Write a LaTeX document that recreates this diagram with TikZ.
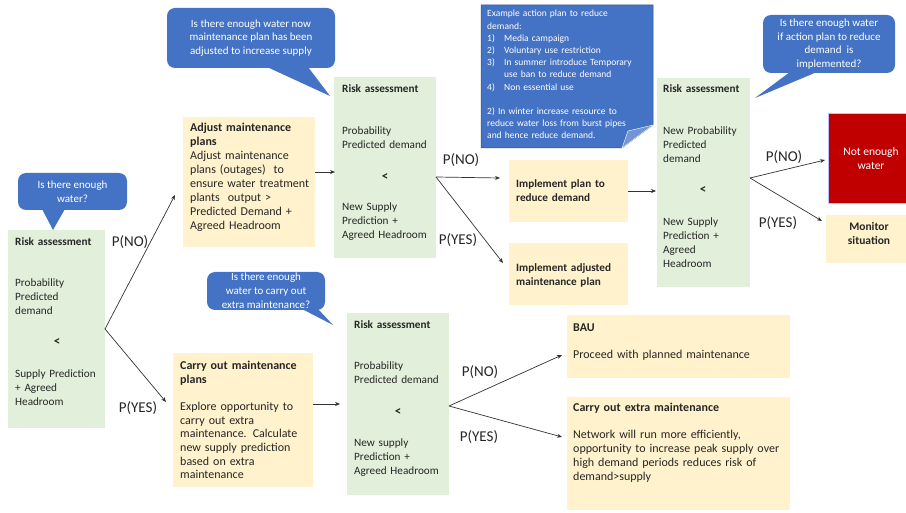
\documentclass[tikz,border=0pt]{standalone}
\usepackage{fontspec}
\setmainfont{Carlito}
\usetikzlibrary{arrows.meta,calc}
\definecolor{gfill}{HTML}{E2EFDA}
\definecolor{pfill}{HTML}{FFF2CC}
\definecolor{bfill}{HTML}{4472C4}
\definecolor{bdraw}{HTML}{2F528F}
\definecolor{rfill}{HTML}{C00000}
\definecolor{tcol}{HTML}{262626}
\definecolor{acol}{HTML}{333333}
\newcommand\numli[1]{\makebox[17pt][l]{#1}}
\begin{document}
\begin{tikzpicture}[x=1pt,y=-1pt,
  box/.style={anchor=north west, inner sep=0pt, outer sep=0pt, draw=none},
  gbox/.style={box, fill=gfill},
  pbox/.style={box, fill=pfill},
  txt/.style={anchor=base west, inner sep=0pt, align=left, text width=200pt, text=tcol, font=\fontsize{11.2}{14}\selectfont},
  bigtxt/.style={txt, font=\fontsize{12}{14}\selectfont},
  ntxt/.style={anchor=base west, inner sep=0pt, align=left, text width=170pt, text=white, font=\fontsize{9.5}{12.2}\selectfont},
  lt/.style={inner sep=0pt, text=tcol, font=\bfseries\fontsize{13}{14}\selectfont},
  lab/.style={inner sep=0pt, text=tcol, font=\fontsize{15}{17}\selectfont},
  callout/.style={box, fill=bfill, rounded corners=8pt, text=white, align=center, font=\fontsize{11}{13.8}\selectfont},
  arr/.style={draw=acol, line width=0.7pt, -{Stealth[length=5pt,width=4pt]}}
]
\useasboundingbox (0,0) rectangle (906,513);
\fill[white] (0,0) rectangle (906,513);

% ---------- left risk assessment
\node[gbox, minimum width=97pt, minimum height=198pt] (r1) at (8,230) {};
\node[txt] (r1a) at (15,245.5) {\textbf{Risk assessment}};
\node[txt] (r1b) at (15,286.5) {Probability\\Predicted\\demand};
\node[lt] (r1c) at (57,342) {<};
\node[txt] (r1d) at (15,377.5) {Supply Prediction\\+ Agreed\\Headroom};

\node[callout, minimum width=109pt, minimum height=37pt] (c1) at (18,173) {Is there enough\\water?};
\fill[bfill] (42,209) -- (65,209) -- (53,230) -- cycle;

% ---------- adjust maintenance
\node[pbox, minimum width=132pt, minimum height=130pt] (adj) at (183,117) {};
\node[bigtxt] (adjt) at (190,131.5) {\textbf{Adjust maintenance}\\\textbf{plans}\\Adjust maintenance\\plans (outages)\ \ to\\ensure water treatment\\plants\ \ output >\\Predicted Demand +\\Agreed Headroom};

\node[callout, minimum width=168pt, minimum height=60pt] (c2) at (167,8) {Is there enough water now\\maintenance plan has been\\adjusted to increase supply};
\fill[bfill] (267,67) -- (308,67) -- (330,96) -- cycle;

% ---------- risk 2
\node[gbox, minimum width=102pt, minimum height=181pt] (r2) at (334,77) {};
\node[txt] (r2a) at (342,92.5) {\textbf{Risk assessment}};
\node[txt] (r2b) at (342,134.5) {Probability\\Predicted demand};
\node[lt] (r2c) at (385,177) {<};
\node[txt] (r2d) at (342,210.5) {New Supply\\Prediction +\\Agreed Headroom};

% ---------- note
\filldraw[fill=bfill, draw=bdraw, line width=0.5pt] (481,5) -- (653,5) -- (653,125) -- (622,148) -- (481,148) -- cycle;
\filldraw[fill=bfill!75!white, draw=white, line width=0.4pt] (653,125) -- (622,148) -- (628,131) -- cycle;
\node[ntxt] (note) at (487,17) {Example action plan to reduce\\demand:\\\numli{1)}Media campaign\\\numli{2)}Voluntary use restriction\\\numli{3)}In summer introduce Temporary\\\numli{}use ban to reduce demand\\\numli{4)}Non essential use\\[12.2pt]2) In winter increase resource to\\reduce water loss from burst pipes\\and hence reduce demand.};

% ---------- implement boxes
\node[pbox, minimum width=119pt, minimum height=62pt] (impl1) at (509,160) {};
\node[txt] (impl1t) at (516,187.5) {\textbf{Implement plan to}\\\textbf{reduce demand}};
\node[pbox, minimum width=119pt, minimum height=62pt] (impl2) at (509,243) {};
\node[txt] (impl2t) at (516,271.5) {\textbf{Implement adjusted}\\\textbf{maintenance plan}};

% ---------- risk 3
\node[gbox, minimum width=93pt, minimum height=209pt] (r3) at (657,78) {};
\node[txt] (r3a) at (663,92.5) {\textbf{Risk assessment}};
\node[txt] (r3b) at (663,134.5) {New Probability\\Predicted\\demand};
\node[lt] (r3c) at (703,190) {<};
\node[txt] (r3d) at (663,225.5) {New Supply\\Prediction +\\Agreed\\Headroom};

\node[callout, minimum width=132pt, minimum height=58pt] (c3) at (763,15) {Is there enough water\\if action plan to reduce\\demand\ \ is\\implemented?};
\fill[bfill] (790,72) -- (817,72) -- (755,98) -- cycle;

\node[box, fill=rfill, draw=blue!25, line width=0.5pt, minimum width=78pt, minimum height=90pt] (red) at (828,113) {};
\node[inner sep=0pt, text=white, align=center, font=\fontsize{11.5}{14}\selectfont] (redt) at (871,159) {Not enough\\water};
\node[pbox, minimum width=80pt, minimum height=48pt] (mon) at (826,215) {};
\node[inner sep=0pt, text=tcol, align=center, font=\bfseries\fontsize{11.5}{14}\selectfont] (mont) at (869,234) {Monitor\\situation};

% ---------- carry out maintenance
\node[callout, minimum width=118pt, minimum height=38pt] (c4) at (207,272) {Is there enough\\water to carry out\\extra maintenance?};
\fill[bfill] (302,309) -- (318,309) -- (333,325) -- cycle;

\node[pbox, minimum width=140pt, minimum height=134pt] (carry) at (173,353) {};
\node[bigtxt] (carrya) at (180,369.5) {\textbf{Carry out maintenance}\\\textbf{plans}};
\node[bigtxt, font=\fontsize{12}{13.7}\selectfont] (carryb) at (180,410.5) {Explore opportunity to\\carry out extra\\maintenance. Calculate\\new supply prediction\\based on extra\\maintenance};

% ---------- risk 4
\node[gbox, minimum width=102pt, minimum height=182pt] (r4) at (347,313) {};
\node[txt] (r4a) at (354,328.5) {\textbf{Risk assessment}};
\node[txt] (r4b) at (354,369.5) {Probability\\Predicted demand};
\node[lt] (r4c) at (398,412) {<};
\node[txt] (r4d) at (354,446.5) {New supply\\Prediction +\\Agreed Headroom};

\node[pbox, minimum width=223pt, minimum height=63pt] (bau) at (567,315) {};
\node[bigtxt] (baua) at (573,331.5) {\textbf{BAU}};
\node[bigtxt, text width=215pt] (baub) at (573,358.5) {Proceed with planned maintenance};
\node[pbox, minimum width=223pt, minimum height=113pt] (extra) at (567,397) {};
\node[bigtxt] (extraa) at (573,411.5) {\textbf{Carry out extra maintenance}};
\node[bigtxt, text width=215pt] (extrab) at (573,438.5) {Network will run more efficiently,\\opportunity to increase peak supply over\\high demand periods reduces risk of\\demand>supply};

% ---------- connectors
\draw[arr] (r1.east) -- ($(adj.west)+(-8,13)$);
\draw[arr] (r1.east) -- ($(carry.west)+(-7,-18)$);
\draw[arr] ($(adj.east)+(0,-10)$) -- ($(r2.west)+(1,4.5)$);
\coordinate (b2) at ($(r2.east)+(0,9.5)$);
\draw[arr] (b2) -- ($(impl1.west)+(-9,-13)$);
\draw[arr] (b2) -- ($(impl2.west)+(-6,-11)$);
\draw[arr] (impl1.east) -- ($(impl1.east -| r3.west)+(-1,0)$);
\coordinate (b3) at ($(r3.east)+(0,-4.5)$);
\draw[arr] (b3) -- ($(red.west)+(-3,2)$);
\draw[arr] (b3) -- ($(mon.west)+(-4,-18)$);
\draw[arr] ($(carry.east)+(0,-16)$) -- ($(r4.west)+(-7,0)$);
\coordinate (b4) at ($(r4.east)+(0,2)$);
\draw[arr] (b4) -- ($(bau.west)+(-5,8.5)$);
\draw[arr] (b4) -- ($(extra.west)+(-5,-16.5)$);

% ---------- labels
\node[lab] (l1) at (130,242) {P(NO)};
\node[lab] (l2) at (138,408) {P(YES)};
\node[lab] (l3) at (461,160) {P(NO)};
\node[lab] (l4) at (458,240) {P(YES)};
\node[lab] (l5) at (784,157) {P(NO)};
\node[lab] (l6) at (778,223) {P(YES)};
\node[lab] (l7) at (480,372) {P(NO)};
\node[lab] (l8) at (479,437) {P(YES)};
\end{tikzpicture}
\end{document}
